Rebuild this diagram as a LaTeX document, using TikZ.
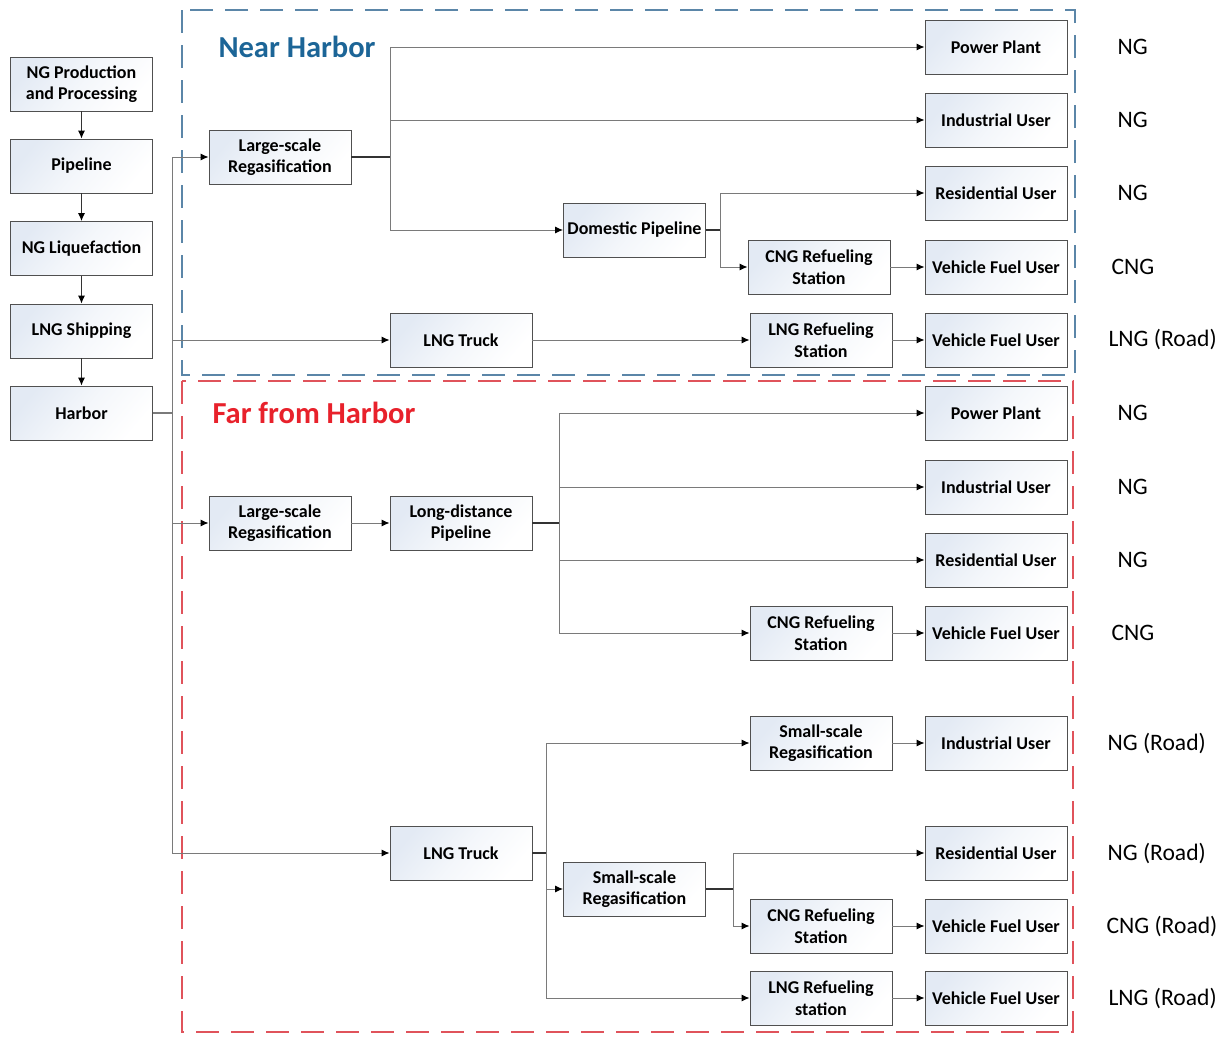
\documentclass[tikz,border=0pt]{standalone}
\usepackage{fontspec}
\setmainfont{Carlito}
\usetikzlibrary{arrows.meta}
\definecolor{boxtint}{HTML}{E3EAF4}
\definecolor{framegray}{HTML}{505050}
\definecolor{linegray}{HTML}{7A7A7A}
\definecolor{nearblue}{HTML}{1C6597}
\definecolor{nearframe}{HTML}{5B86A8}
\definecolor{farred}{HTML}{E8212B}
\definecolor{farframe}{HTML}{E0535B}
\tikzset{
  stage/.style={draw=framegray, line width=0.9pt, top color=boxtint, bottom color=white,
    middle color=white!60!boxtint, shading angle=50, minimum width=142pt, minimum height=54pt,
    inner sep=0pt, align=center, font=\bfseries\fontsize{18}{21.5}\selectfont},
  flow/.style={draw=linegray, line width=1pt,
    -{Latex[length=8pt,width=7pt,color=black]}},
  stub/.style={draw=black!80, line width=1.4pt},
  usage/.style={anchor=west, font=\fontsize{23.6}{27}\selectfont},
  region/.style={line width=1.5pt, dash pattern=on 23pt off 12pt},
  regiontitle/.style={anchor=west, font=\bfseries\fontsize{30.5}{34}\selectfont}
}
\begin{document}
\begin{tikzpicture}[x=1pt,y=-1pt]
\useasboundingbox (0,0) rectangle (1223,1036);
\fill[white] (0,0) rectangle (1223,1036);

% zone frames
\draw[region, draw=nearframe] (182,10) rectangle (1075,375);
\draw[region, draw=farframe] (182,381) rectangle (1073,1032);
\node[regiontitle, text=nearblue] (neartitle) at (215,47) {Near Harbor};
\node[regiontitle, text=farred] (fartitle) at (209,413) {Far from Harbor};

% supply chain
\node[stage] (prod) at (81.5,84) {NG Production\\and Processing};
\node[stage] (pipe) at (81.5,166) {Pipeline};
\node[stage] (liq) at (81.5,248.5) {NG Liquefaction};
\node[stage] (ship) at (81.5,331) {LNG Shipping};
\node[stage] (harbor) at (81.5,413) {Harbor};
\foreach \a/\b in {prod/pipe, pipe/liq, liq/ship, ship/harbor}
  \draw[flow, draw=black!80] (\a) -- (\b);

% near harbor
\node[stage] (nreg) at (280,157) {Large-scale\\Regasification};
\node[stage] (npp) at (996,47) {Power Plant};
\node[stage] (niu) at (996,120) {Industrial User};
\node[stage] (nres) at (996,193) {Residential User};
\node[stage] (nveh1) at (996,267) {Vehicle Fuel User};
\node[stage] (nveh2) at (996,340) {Vehicle Fuel User};
\node[stage] (ndp) at (634.5,230) {Domestic Pipeline};
\node[stage] (ncng) at (819,267) {CNG Refueling\\Station};
\node[stage] (nlt) at (461,340) {LNG Truck};
\node[stage] (nlrs) at (821,340) {LNG Refueling\\Station};

% far from harbor
\node[stage] (freg) at (280,523) {Large-scale\\Regasification};
\node[stage] (fldp) at (461,523) {Long-distance\\Pipeline};
\node[stage] (fpp) at (996,413) {Power Plant};
\node[stage] (fiu) at (996,487) {Industrial User};
\node[stage] (fres) at (996,560) {Residential User};
\node[stage] (fcng) at (821,633) {CNG Refueling\\Station};
\node[stage] (fveh1) at (996,633) {Vehicle Fuel User};
\node[stage] (flt) at (461,853) {LNG Truck};
\node[stage] (fssr1) at (821,743) {Small-scale\\Regasification};
\node[stage] (fiu2) at (996,743) {Industrial User};
\node[stage] (fssr2) at (634.5,889) {Small-scale\\Regasification};
\node[stage] (fres2) at (996,853) {Residential User};
\node[stage] (fcng2) at (821,926) {CNG Refueling\\Station};
\node[stage] (fveh2) at (996,926) {Vehicle Fuel User};
\node[stage] (flrs) at (821,998) {LNG Refueling\\station};
\node[stage] (fveh3) at (996,998) {Vehicle Fuel User};

% delivered product
\node[usage] (u1) at (1114,47) {NG};
\node[usage] (u2) at (1114,120) {NG};
\node[usage] (u3) at (1114,193) {NG};
\node[usage] (u4) at (1108,267) {CNG};
\node[usage] (u5) at (1105,340) {LNG (Road)};
\node[usage] (u6) at (1114,413) {NG};
\node[usage] (u7) at (1114,487) {NG};
\node[usage] (u8) at (1114,560) {NG};
\node[usage] (u9) at (1108,633) {CNG};
\node[usage] (u10) at (1104,743) {NG (Road)};
\node[usage] (u11) at (1104,853) {NG (Road)};
\node[usage] (u12) at (1103,926) {CNG (Road)};
\node[usage] (u13) at (1105,998) {LNG (Road)};

% junction points
\coordinate (sp) at (172,413);
\coordinate (j1) at (390,157);
\coordinate (j2) at (720,230);
\coordinate (j3) at (559,523);
\coordinate (j4) at (546,853);
\coordinate (j5) at (733,889);

% harbor distribution
\draw[draw=linegray, line width=1.2pt] (harbor.east) -- (sp);
\foreach \t in {nreg, nlt, freg, flt}
  \draw[flow] (sp) |- (\t.west);

% near harbor flows
\draw[stub] (nreg.east) -- (j1);
\foreach \t in {npp, niu, ndp}
  \draw[flow] (j1) |- (\t.west);
\draw[stub] (ndp.east) -- (j2);
\foreach \t in {nres, ncng}
  \draw[flow] (j2) |- (\t.west);
\draw[flow] (ncng) -- (nveh1);
\draw[flow] (nlt) -- (nlrs);
\draw[flow] (nlrs) -- (nveh2);

% far from harbor flows
\draw[flow] (freg) -- (fldp);
\draw[stub] (fldp.east) -- (j3);
\foreach \t in {fpp, fiu, fres, fcng}
  \draw[flow] (j3) |- (\t.west);
\draw[flow] (fcng) -- (fveh1);
\draw[stub] (flt.east) -- (j4);
\foreach \t in {fssr1, fssr2, flrs}
  \draw[flow] (j4) |- (\t.west);
\draw[flow] (fssr1) -- (fiu2);
\draw[stub] (fssr2.east) -- (j5);
\foreach \t in {fres2, fcng2}
  \draw[flow] (j5) |- (\t.west);
\draw[flow] (fcng2) -- (fveh2);
\draw[flow] (flrs) -- (fveh3);
\end{tikzpicture}
\end{document}
